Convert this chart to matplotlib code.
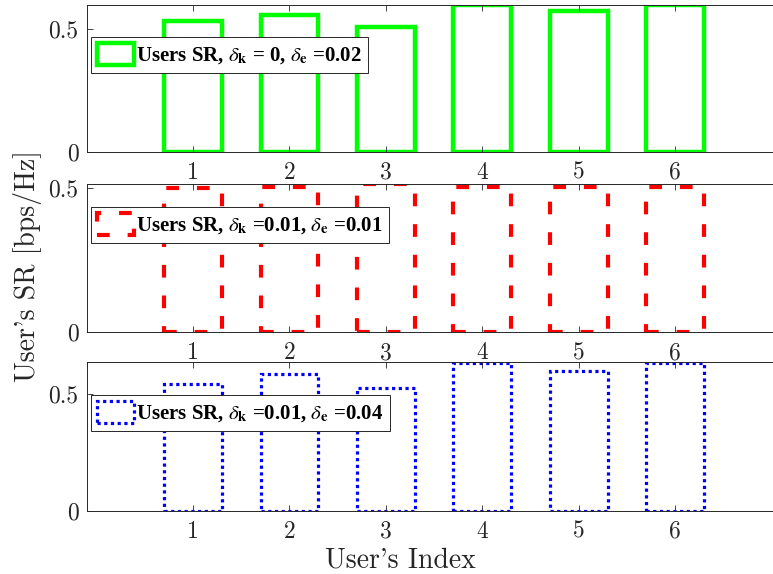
import matplotlib
matplotlib.use("Agg")
import matplotlib.pyplot as plt
from matplotlib.font_manager import FontProperties

# Per-user sum rate for three imperfection settings
users = [1, 2, 3, 4, 5, 6]
user_tick_labels = ["1", "2", "3", "4", "5", "6"]
sr_dk0_de002 = [0.534, 0.560, 0.510, 0.597, 0.574, 0.597]
sr_dk001_de001 = [0.501, 0.503, 0.514, 0.503, 0.503, 0.503]
sr_dk001_de004 = [0.546, 0.585, 0.525, 0.635, 0.600, 0.635]
series_labels = [
    r"Users SR, $\delta_{\mathbf{k}}$ = 0, $\delta_{\mathbf{e}}$ =0.02",
    r"Users SR, $\delta_{\mathbf{k}}$ =0.01, $\delta_{\mathbf{e}}$ =0.01",
    r"Users SR, $\delta_{\mathbf{k}}$ =0.01, $\delta_{\mathbf{e}}$ =0.04",
]
y_tops = [0.6, 0.515, 0.637]
y_tick_values = [0, 0.5]
y_tick_labels = ["0", "0.5"]

plt.rcParams["mathtext.fontset"] = "stix"

W, H = 773, 574
fig = plt.figure(figsize=(W / 100, H / 100), dpi=100)

txt_col = "#262626"
tick_font = FontProperties(family="cmr10", size=17)
label_font = FontProperties(family="cmr10", size=20)
legend_font = FontProperties(family="Liberation Serif", weight="bold", size=15)

# axes boxes: (bottom, height) in figure fraction
boxes = [(0.7357, 0.2561), (0.4211, 0.2584), (0.1103, 0.2585)]
legend_tops = [0.780, 0.845, 0.780]
styles = [
    dict(edgecolor="#00ff00", linewidth=3.2, linestyle="-"),
    dict(edgecolor="#ff0000", linewidth=3.0, linestyle=(0, (3.05, 4.3))),
    dict(edgecolor="#0000ff", linewidth=2.3, linestyle=(0, (1.0, 1.1))),
]
series = [sr_dk0_de002, sr_dk001_de001, sr_dk001_de004]

left = 87 / W
width = 694 / W

for i in range(3):
    b, h = boxes[i]
    ax = fig.add_axes([left, b, width, h])
    ax.bar(users, series[i], width=0.6, facecolor="none",
           label=series_labels[i], **styles[i])
    ax.set_xlim(-0.1, 7.1)
    ax.set_ylim(0, y_tops[i])
    ax.set_xticks(users)
    ax.set_xticklabels(user_tick_labels)
    ax.set_yticks(y_tick_values)
    ax.set_yticklabels(y_tick_labels)
    for lab in ax.get_xticklabels() + ax.get_yticklabels():
        lab.set_fontproperties(tick_font)
        lab.set_color(txt_col)
    ax.tick_params(direction="in", length=4, width=0.6, colors=txt_col,
                   top=True, right=True)
    ax.tick_params(axis="x", pad=7)
    ax.tick_params(axis="y", pad=6)
    for sp in ax.spines.values():
        sp.set_color(txt_col)
        sp.set_linewidth(0.7)
    leg = ax.legend(loc="upper left", bbox_to_anchor=(0.006, legend_tops[i]),
                    borderaxespad=0, prop=legend_font, fancybox=False,
                    framealpha=1, edgecolor="#262626", borderpad=0.3,
                    handlelength=1.75, handleheight=1.2, handletextpad=0.12)
    leg.get_frame().set_linewidth(0.7)

fig.text(28 / W, 1 - 266 / H, "User's SR [bps/Hz]", rotation=90,
         ha="center", va="center", fontproperties=label_font, color=txt_col)
fig.text(400 / W, 1 - 567 / H, "User's Index", ha="center", va="baseline",
         fontproperties=label_font, color=txt_col)

fig.savefig("out.png", dpi=100)
